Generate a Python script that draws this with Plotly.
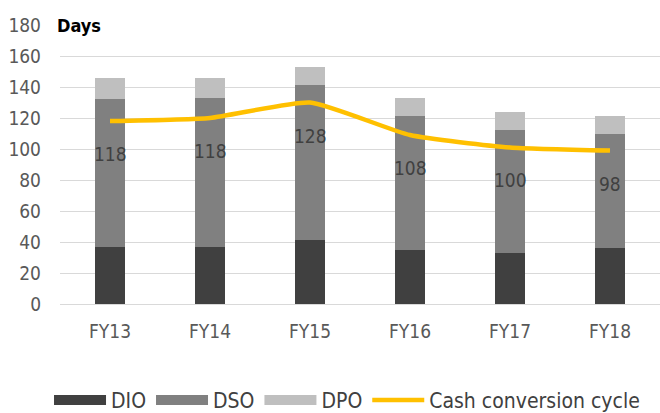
import plotly.graph_objects as go

categories = ["FY13", "FY14", "FY15", "FY16", "FY17", "FY18"]
dio = [37, 37, 41, 35, 33, 36]
dso = [95, 96, 100, 86, 79, 74]
dpo = [14, 13, 12, 12, 12, 11]
ccc_line = [118, 120, 130, 109, 101, 99]
ccc_labels = ["118", "118", "128", "108", "100", "98"]
y_ticks = [0, 20, 40, 60, 80, 100, 120, 140, 160, 180]

FONT = "DejaVu Sans Condensed, DejaVu Sans"
bar_series = [("DIO", dio, "#404040"), ("DSO", dso, "#808080"), ("DPO", dpo, "#BFBFBF")]

fig = go.Figure()
for name, vals, col in bar_series:
    fig.add_bar(x=categories, y=vals, name=name, legendgroup=name, showlegend=False,
                marker=dict(color=col, line=dict(width=0)))
# legend entries with wide swatches like the original
for name, vals, col in bar_series:
    fig.add_scatter(x=[None], y=[None], name=name, legendgroup=name, mode="lines",
                    line=dict(color=col, width=12), hoverinfo="skip")
fig.add_scatter(x=categories, y=ccc_line, name="Cash conversion cycle", mode="lines",
                line=dict(color="#FFC000", width=4.5, shape="spline", smoothing=0.5))

for c, v, t in zip(categories, ccc_line, ccc_labels):
    fig.add_annotation(x=c, y=v, text=t, showarrow=False, yshift=-33, yanchor="middle",
                       font=dict(family=FONT, size=19, color="#404040"))

fig.add_annotation(xref="paper", yref="paper", x=-0.008, y=1.0, text="<b>Days</b>",
                   showarrow=False, xanchor="left", yanchor="middle",
                   font=dict(family=FONT, size=18, color="#000000"))

fig.update_layout(
    width=660, height=413,
    margin=dict(l=60, r=0, t=24.5, b=108.5, autoexpand=False),
    barmode="stack", bargap=0.7,
    plot_bgcolor="white", paper_bgcolor="white",
    font=dict(family=FONT, color="#595959"),
    showlegend=True,
    legend=dict(orientation="h", x=-0.0183, xanchor="left", y=-0.345, yanchor="middle",
                font=dict(family=FONT, size=21, color="#404040"), itemwidth=52,
                traceorder="normal"),
)
fig.update_yaxes(range=[0, 180], tickvals=y_ticks, showgrid=True, gridcolor="#D9D9D9",
                 gridwidth=1, zeroline=False, showline=False,
                 tickfont=dict(family=FONT, size=19, color="#595959"), ticklabelstandoff=18)
fig.update_xaxes(showline=True, linecolor="#D9D9D9", linewidth=1,
                 tickfont=dict(family=FONT, size=19, color="#595959"), ticklabelstandoff=10)

fig.write_html("out.html", post_script="document.body.style.margin='0';",
               config={"displayModeBar": False})
